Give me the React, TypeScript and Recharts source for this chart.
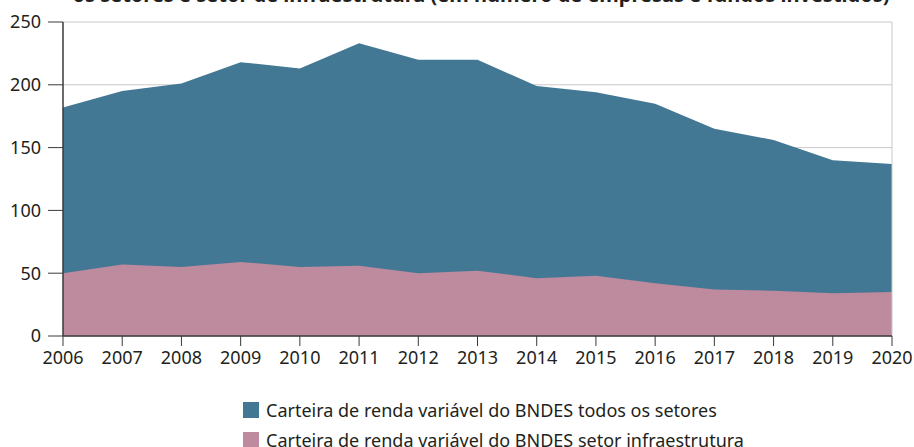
import React from "react";
import {
    AreaChart,
    Area,
    XAxis,
    YAxis,
    CartesianGrid,
    ReferenceLine,
} from "recharts";

const years = ["2006", "2007", "2008", "2009", "2010", "2011", "2012", "2013", "2014", "2015", "2016", "2017", "2018", "2019", "2020"];
const todosSetores = [182, 195, 201, 218, 213, 233, 220, 220, 199, 194, 185, 165, 156, 140, 137];
const infraestrutura = [50, 57, 55, 59, 55, 56, 50, 52, 46, 48, 42, 37, 36, 34, 35];
const yTicks = [0, 50, 100, 150, 200, 250];

const TITLE = "os setores e setor de infraestrutura (em número de empresas e fundos investidos)";
const LABEL_TODOS = "Carteira de renda variável do BNDES todos os setores";
const LABEL_INFRA = "Carteira de renda variável do BNDES setor infraestrutura";

const BLUE = "#427894";
const PINK = "#be8a9e";
const FONT = "'Noto Sans', sans-serif";

const data = years.map((year, i) => ({
    year,
    todos: todosSetores[i],
    infra: infraestrutura[i],
}));

function LegendRow({ color, label }: { color: string; label: string }) {
    return (
        <div style={{ display: "flex", alignItems: "center", height: 30 }}>
            <div style={{ width: 16, height: 16, backgroundColor: color, marginRight: 7 }} />
            <span style={{ fontSize: 18, color: "#231f20" }}>{label}</span>
        </div>
    );
}

export default function App() {
    return (
        <div
            style={{
                position: "absolute",
                left: 0,
                top: 0,
                width: 914,
                height: 447,
                overflow: "hidden",
                background: "#fff",
                fontFamily: FONT,
            }}
        >
            <div
                style={{
                    position: "absolute",
                    top: -15,
                    left: 0,
                    width: 962,
                    textAlign: "center",
                    fontSize: 20,
                    fontWeight: 700,
                    lineHeight: "20px",
                    color: "#231f20",
                    whiteSpace: "nowrap",
                }}
            >
                {TITLE}
            </div>
            <div style={{ position: "absolute", top: 0, left: 0 }}>
                <AreaChart
                    width={914}
                    height={380}
                    data={data}
                    margin={{ top: 22, right: 22, left: 0, bottom: 14 }}
                >
                    <CartesianGrid vertical={false} stroke="#c8c8c8" strokeWidth={1} />
                    <ReferenceLine x="2020" stroke="#c8c8c8" strokeWidth={1} />
                    <XAxis
                        dataKey="year"
                        height={30}
                        tickSize={10}
                        tickMargin={5}
                        interval={0}
                        axisLine={{ stroke: "#3a3a3a", strokeWidth: 1.5 }}
                        tickLine={{ stroke: "#3a3a3a", strokeWidth: 1 }}
                        tick={{ fontSize: 18, fill: "#231f20", fontFamily: FONT }}
                    />
                    <YAxis
                        width={63}
                        domain={[0, 250]}
                        ticks={yTicks}
                        tickSize={15}
                        tickMargin={7}
                        axisLine={{ stroke: "#3a3a3a", strokeWidth: 1.5 }}
                        tickLine={{ stroke: "#3a3a3a", strokeWidth: 1 }}
                        tick={{ fontSize: 18, fill: "#231f20", fontFamily: FONT }}
                    />
                    <Area
                        type="linear"
                        dataKey="todos"
                        stroke="none"
                        fill={BLUE}
                        fillOpacity={1}
                        isAnimationActive={false}
                    />
                    <Area
                        type="linear"
                        dataKey="infra"
                        stroke="none"
                        fill={PINK}
                        fillOpacity={1}
                        isAnimationActive={false}
                    />
                </AreaChart>
            </div>
            <div style={{ position: "absolute", left: 243, top: 395 }}>
                <LegendRow color={BLUE} label={LABEL_TODOS} />
                <LegendRow color={PINK} label={LABEL_INFRA} />
            </div>
        </div>
    );
}
